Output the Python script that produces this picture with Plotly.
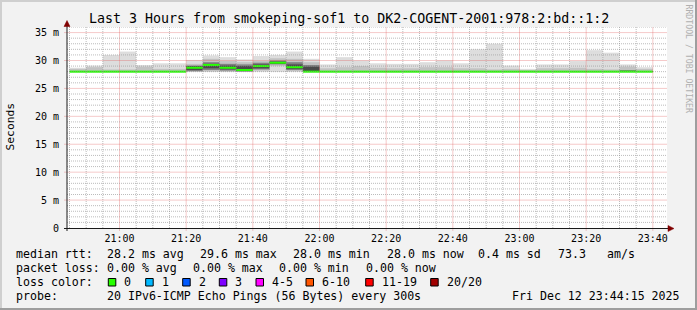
import plotly.graph_objects as go
import pandas as pd

# ---------------- data ----------------
times = [
    "2025-12-12 20:45", "2025-12-12 20:50", "2025-12-12 20:55", "2025-12-12 21:00",
    "2025-12-12 21:05", "2025-12-12 21:10", "2025-12-12 21:15", "2025-12-12 21:20",
    "2025-12-12 21:25", "2025-12-12 21:30", "2025-12-12 21:35", "2025-12-12 21:40",
    "2025-12-12 21:45", "2025-12-12 21:50", "2025-12-12 21:55", "2025-12-12 22:00",
    "2025-12-12 22:05", "2025-12-12 22:10", "2025-12-12 22:15", "2025-12-12 22:20",
    "2025-12-12 22:25", "2025-12-12 22:30", "2025-12-12 22:35", "2025-12-12 22:40",
    "2025-12-12 22:45", "2025-12-12 22:50", "2025-12-12 22:55", "2025-12-12 23:00",
    "2025-12-12 23:05", "2025-12-12 23:10", "2025-12-12 23:15", "2025-12-12 23:20",
    "2025-12-12 23:25", "2025-12-12 23:30", "2025-12-12 23:35",
]
# sorted-ping percentiles per 5-minute step (ms)
p_min = [27.9, 27.9, 27.9, 27.9, 27.9, 27.9, 27.9, 27.95, 27.95, 27.95, 27.95, 27.95,
         27.95, 27.95, 27.9, 27.9, 27.9, 27.9, 27.9, 27.9, 27.9, 27.9, 27.9, 27.9,
         27.9, 27.9, 27.9, 27.9, 27.9, 27.9, 27.9, 27.9, 27.9, 27.9, 27.9]
p_3 = [27.95, 27.95, 27.95, 27.95, 27.95, 27.95, 27.95, 28.0, 28.05, 28.0, 28.0, 28.2,
       29.0, 28.1, 27.95, 27.95, 27.95, 27.95, 27.95, 27.95, 27.95, 27.95, 27.95, 27.95,
       27.95, 27.95, 27.95, 27.95, 27.95, 27.95, 27.95, 27.95, 27.95, 27.95, 27.95]
p_6 = [27.98, 27.98, 27.98, 27.98, 27.98, 27.98, 27.98, 28.1, 28.3, 28.2, 28.05, 28.4,
       29.3, 28.3, 27.97, 27.98, 27.98, 27.98, 27.98, 27.98, 27.98, 27.98, 27.98, 27.98,
       27.98, 27.98, 27.98, 27.98, 27.98, 27.98, 27.98, 27.98, 27.98, 27.98, 27.98]
p_8 = [28.0, 28.0, 28.0, 28.0, 28.0, 28.0, 28.0, 28.3, 28.6, 28.4, 28.1, 28.6,
       29.45, 28.5, 27.98, 28.0, 28.0, 28.0, 28.0, 28.0, 28.0, 28.0, 28.0, 28.0,
       28.0, 28.0, 28.0, 28.0, 28.0, 28.0, 28.0, 28.0, 28.0, 28.0, 28.0]
median = [28.0, 28.0, 28.0, 28.0, 28.0, 28.0, 28.0, 28.7, 29.2, 28.7, 28.3, 29.0,
          29.6, 28.8, 28.0, 28.0, 28.0, 28.0, 28.0, 28.0, 28.0, 28.0, 28.0, 28.0,
          28.0, 28.0, 28.0, 28.0, 28.0, 28.0, 28.0, 28.0, 28.0, 28.0, 28.0]
p_13 = [28.05, 28.05, 28.05, 28.05, 28.05, 28.05, 28.05, 29.0, 29.4, 29.1, 29.0, 29.3,
        29.8, 29.3, 28.9, 28.05, 28.05, 28.05, 28.05, 28.05, 28.05, 28.05, 28.05, 28.05,
        28.05, 28.05, 28.05, 28.05, 28.05, 28.05, 28.05, 28.05, 28.05, 28.1, 28.05]
p_15 = [28.1, 28.1, 28.1, 28.1, 28.1, 28.1, 28.1, 29.1, 29.7, 29.4, 29.3, 29.6,
        30.0, 29.7, 29.2, 28.1, 28.1, 28.1, 28.1, 28.1, 28.1, 28.1, 28.1, 28.1,
        28.1, 28.1, 28.1, 28.1, 28.1, 28.1, 28.1, 28.1, 28.1, 28.25, 28.1]
p_18 = [28.5, 28.8, 28.4, 28.4, 28.9, 28.5, 28.5, 29.4, 30.3, 29.9, 29.7, 29.9,
        30.4, 30.3, 29.7, 28.6, 28.8, 29.0, 28.7, 28.6, 28.6, 28.8, 28.8, 28.6,
        28.6, 28.4, 28.5, 28.3, 28.6, 28.6, 28.7, 28.5, 28.4, 28.9, 28.5]
p_max = [28.7, 29.1, 31.0, 31.6, 29.2, 29.5, 29.5, 30.1, 30.9, 30.6, 30.2, 30.8,
         31.0, 31.6, 30.3, 29.3, 30.6, 30.0, 29.5, 29.4, 29.4, 29.7, 30.0, 29.5,
         32.0, 33.0, 29.1, 28.5, 29.3, 29.3, 29.9, 31.85, 31.4, 29.3, 28.8]

y_tick_vals = [0, 5, 10, 15, 20, 25, 30, 35]
y_tick_text = ["0", "5 m", "10 m", "15 m", "20 m", "25 m", "30 m", "35 m"]
x_tick_vals = ["2025-12-12 21:00", "2025-12-12 21:20", "2025-12-12 21:40", "2025-12-12 22:00",
               "2025-12-12 22:20", "2025-12-12 22:40", "2025-12-12 23:00", "2025-12-12 23:20",
               "2025-12-12 23:40"]
x_tick_text = ["21:00", "21:20", "21:40", "22:00", "22:20", "22:40", "23:00", "23:20", "23:40"]

title_text = "Last 3 Hours from smokeping-sof1 to DK2-COGENT-2001:978:2:bd::1:2"
rtt_label = "median rtt:"
rtt_stats = ["28.2 ms avg", "29.6 ms max", "28.0 ms min", "28.0 ms now", "0.4 ms sd", "73.3", "am/s"]
loss_label = "packet loss:"
loss_stats = ["0.00 % avg", "0.00 % max", "0.00 % min", "0.00 % now"]
color_label = "loss color:"
loss_names = ["0", "1", "2", "3", "4-5", "6-10", "11-19", "20/20"]
loss_colors = ["#26ff00", "#00b8ff", "#0059ff", "#7e00ff", "#ff00ff", "#ff5500", "#ff0000", "#a10000"]
probe_label = "probe:"
probe_text = "20 IPv6-ICMP Echo Pings (56 Bytes) every 300s"
stamp_text = "Fri Dec 12 23:44:15 2025"
watermark = "RRDTOOL / TOBI OETIKER"

# ---------------- layout geometry (pixels) ----------------
W, H = 697, 310
L, R, T, B = 67, 667, 27, 228
PW, PH = R - L, B - T
MONO = "DejaVu Sans Mono"
STEP_MS = 300000


def px(x):
    return (x - L) / PW


def py(y):
    return (B - y) / PH


fig = go.Figure()


def band(lo, hi, color):
    fig.add_trace(go.Bar(
        x=times, base=lo, y=[h - l for h, l in zip(hi, lo)],
        width=STEP_MS, offset=0,
        marker=dict(color=color, line=dict(width=0)),
        hoverinfo="skip", showlegend=False))


band(p_min, p_max, "#dddddd")
band(p_3, p_18, "#c2c2c2")
band(p_6, p_15, "#808080")
band(p_8, p_13, "#4a4a4a")

MED_T = 0.36  # median line thickness in ms (~2px)
fig.add_trace(go.Bar(
    x=times, base=[m - MED_T / 2 for m in median], y=[MED_T] * len(median),
    width=STEP_MS, offset=0,
    marker=dict(color="#26ff00", line=dict(width=0)),
    hoverinfo="skip", showlegend=False))

shapes = []
# grid (drawn above the smoke, as rrdtool does)
t0 = pd.Timestamp("2025-12-12 20:45")
t_end = pd.Timestamp("2025-12-12 23:44:15")
minor_col = "rgba(143,143,143,0.6)"
major_col = "rgba(222,79,79,0.6)"
for t in pd.date_range(t0, t_end, freq="5min"):
    major = (t.minute % 20 == 0)
    shapes.append(dict(type="line", xref="x", yref="paper", x0=t, x1=t,
                       y0=py(230.5) if major else 0, y1=1,
                       line=dict(color=major_col if major else minor_col, width=1, dash="1px,1px"),
                       layer="above"))
for v in range(1, 37):
    major = (v % 5 == 0)
    shapes.append(dict(type="line", xref="paper", yref="y", x0=px(64.5) if major else 0, x1=1, y0=v, y1=v,
                       line=dict(color=major_col if major else minor_col, width=1, dash="1px,1px"),
                       layer="above"))

axis_col = "#1a1a1a"
arrow_col = "#800000"
# axes lines
shapes.append(dict(type="line", xref="paper", yref="paper", x0=px(64), x1=px(670), y0=py(228.5), y1=py(228.5),
                   line=dict(color=axis_col, width=1), layer="above"))
shapes.append(dict(type="line", xref="paper", yref="paper", x0=px(67), x1=px(67), y0=py(231), y1=py(24),
                   line=dict(color=axis_col, width=1), layer="above"))
# arrows
shapes.append(dict(type="path", xref="paper", yref="paper",
                   path=f"M {px(64)} {py(26.5)} L {px(70)} {py(26.5)} L {px(67)} {py(20.5)} Z",
                   fillcolor=arrow_col, line=dict(color=arrow_col, width=0.5), layer="above"))
shapes.append(dict(type="path", xref="paper", yref="paper",
                   path=f"M {px(668)} {py(225.5)} L {px(668)} {py(231.5)} L {px(674)} {py(228.5)} Z",
                   fillcolor=arrow_col, line=dict(color=arrow_col, width=0.5), layer="above"))
# frame shading
shapes.append(dict(type="rect", xref="paper", yref="paper", x0=px(0), x1=px(697), y0=py(0), y1=py(2),
                   fillcolor="#cfcfcf", line=dict(width=0), layer="above"))
shapes.append(dict(type="rect", xref="paper", yref="paper", x0=px(0), x1=px(2), y0=py(0), y1=py(310),
                   fillcolor="#cfcfcf", line=dict(width=0), layer="above"))
shapes.append(dict(type="rect", xref="paper", yref="paper", x0=px(0), x1=px(697), y0=py(308), y1=py(310),
                   fillcolor="#9e9e9e", line=dict(width=0), layer="above"))
shapes.append(dict(type="rect", xref="paper", yref="paper", x0=px(695), x1=px(697), y0=py(0), y1=py(310),
                   fillcolor="#9e9e9e", line=dict(width=0), layer="above"))

annotations = []


def ann(text, x, y, size=11.6, anchor="left", color="#000000", angle=0):
    annotations.append(dict(text=text, x=px(x), y=py(y), xref="paper", yref="paper",
                            xanchor=anchor, yanchor="middle", showarrow=False, borderpad=0,
                            textangle=angle,
                            font=dict(family=MONO, size=size, color=color)))


ann(title_text, 348.5, 19, size=13.3, anchor="center")
ann("Seconds", 10.5, 127, size=11.3, anchor="center", angle=-90)
ann(watermark, 688.5, 59, size=8.2, anchor="center", color="#b0b0b0", angle=90)

row_y = [254, 268, 282, 296]
ann(rtt_label, 15, row_y[0])
for s, x in zip(rtt_stats, [106.3, 199, 292.3, 385.7, 477.3, 557.3, 605.7]):
    ann(s, x, row_y[0])
ann(loss_label, 15, row_y[1])
for s, x in zip(loss_stats, [106.3, 192.3, 278.3, 364.7]):
    ann(s, x, row_y[1])
ann(color_label, 15, row_y[2])
box_x = [108.3, 145.7, 182.7, 219.3, 256.0, 306.0, 365.7, 430.7]
for name, col, bx in zip(loss_names, loss_colors, box_x):
    shapes.append(dict(type="rect", xref="paper", yref="paper",
                       x0=px(bx), x1=px(bx + 7.5), y0=py(286), y1=py(278.5),
                       fillcolor=col, line=dict(color="#000000", width=1), layer="above"))
    ann(name, bx + 15, row_y[2])
ann(probe_label, 15, row_y[3])
ann(probe_text, 106.3, row_y[3])
ann(stamp_text, 681, row_y[3], anchor="right")

fig.update_layout(
    width=W, height=H, autosize=False,
    margin=dict(l=L, r=W - R, t=T, b=H - B, pad=0),
    paper_bgcolor="#f2f2f2", plot_bgcolor="#ffffff",
    barmode="overlay", showlegend=False,
    shapes=shapes, annotations=annotations,
    xaxis=dict(type="date", range=["2025-12-12 20:44:15", "2025-12-12 23:44:15"],
               tickmode="array", tickvals=x_tick_vals, ticktext=x_tick_text,
               showgrid=False, zeroline=False, showline=False,
               ticks="outside", ticklen=1, tickcolor="rgba(0,0,0,0)",
               tickfont=dict(family=MONO, size=10, color="#000000"), fixedrange=True),
    yaxis=dict(range=[0, 36], tickmode="array", tickvals=y_tick_vals, ticktext=y_tick_text,
               showgrid=False, zeroline=False, showline=False,
               ticks="outside", ticklen=5, tickcolor="rgba(0,0,0,0)",
               tickfont=dict(family=MONO, size=10, color="#000000"), fixedrange=True),
)

fig.write_html("out.html")
